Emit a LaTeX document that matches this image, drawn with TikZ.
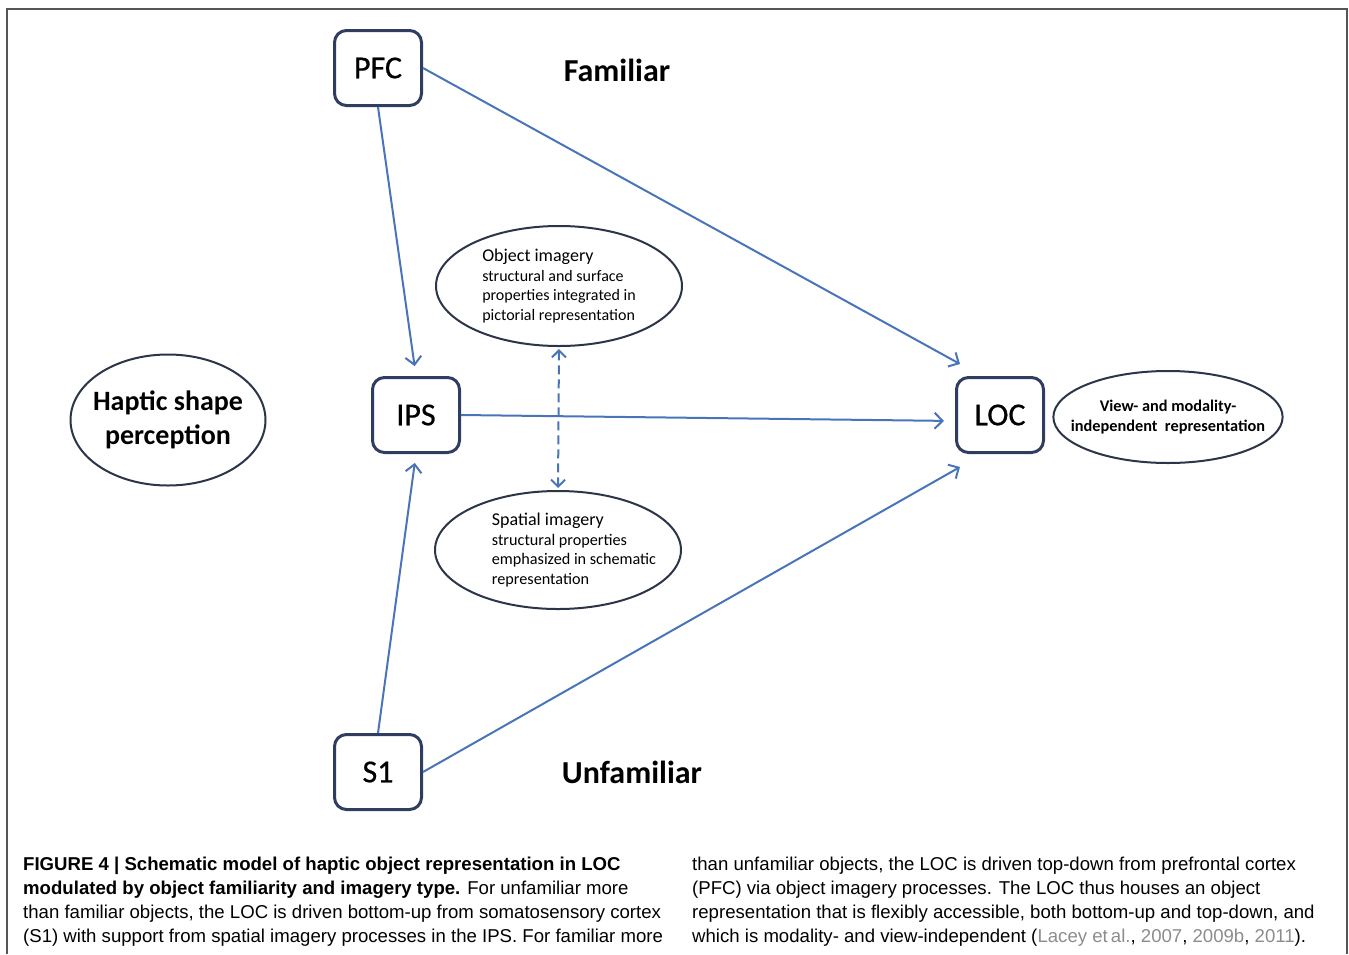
\documentclass[tikz,border=0pt]{standalone}
\usepackage{fontspec}
\setmainfont{Carlito}
\newfontfamily\labelfont[FakeBold=0.6]{Carlito}
\newfontfamily\capfont{Liberation Sans}
\usetikzlibrary{arrows.meta,shapes.geometric}
\definecolor{boxline}{HTML}{2F3E60}
\definecolor{ellline}{HTML}{2B3448}
\definecolor{arrowblue}{HTML}{4A74BA}
\definecolor{framegray}{HTML}{555555}
\definecolor{citegray}{HTML}{8C8C8C}
\begin{document}
\begin{tikzpicture}[x=1pt,y=-1pt,
  region/.style={draw=boxline, line width=3pt, rounded corners=12pt, minimum width=87pt, minimum height=75pt, inner sep=0pt, fill=white, font=\labelfont\fontsize{32}{36}\selectfont},
  bubble/.style={ellipse, draw=ellline, line width=2pt, inner sep=0pt},
  link/.style={draw=arrowblue, line width=2pt, -{Straight Barb[length=8pt,width=16pt]}},
  dashlink/.style={draw=arrowblue, line width=2pt, dash pattern=on 9pt off 5pt, {Straight Barb[length=7pt,width=14pt]}-{Straight Barb[length=7pt,width=14pt]}},
  bigword/.style={font=\bfseries\fontsize{32}{36}\selectfont, inner sep=0pt},
  capline/.style={anchor=base west, inner sep=0pt, font=\capfont\fontsize{18.6}{24}\selectfont}
]
\useasboundingbox (0,0) rectangle (1349,954);
\draw[framegray, line width=2pt] (7,954) -- (7,9) -- (1347,9) -- (1347,954);

\node[region] (pfc) at (378,68) {PFC};
\node[region] (ips) at (416,415) {IPS};
\node[region] (s1) at (378,772) {S1};
\node[region] (loc) at (1000,415) {LOC};

\node[bigword] (fam) at (617,70) {Familiar};
\node[bigword] (unfam) at (632,772) {Unfamiliar};

\node[bubble, inner xsep=-7pt, minimum width=195pt, minimum height=131pt, align=center, font=\bfseries\fontsize{28}{34}\selectfont] (haptic) at (168,420) {Haptic shape\\perception};

\node[bubble, minimum width=246pt, minimum height=120pt, align=left, font=\fontsize{16}{19.5}\selectfont] (obj) at (559,286)
  {{\fontsize{18}{20}\selectfont Object imagery}\\structural and surface\\properties integrated in\\pictorial representation};
\node[bubble, minimum width=246pt, minimum height=118pt] (spat) at (558,550) {};
\node[inner sep=0pt, align=left, font=\fontsize{16.2}{19.5}\selectfont] (spattext) at (574,550)
  {{\fontsize{18}{20}\selectfont Spatial imagery}\\structural properties\\emphasized in schematic\\representation};
\node[bubble, inner xsep=-16pt, minimum width=227pt, minimum height=92pt, align=center, font=\bfseries\fontsize{16.3}{20}\selectfont] (view) at (1168,417)
  {View- and modality-\\independent\ \ representation};

\draw[link, shorten >=10pt] (pfc.south) -- (ips.north);
\draw[link] (pfc.east) -- ([shift={(5pt,12pt)}]loc.north west);
\draw[link, shorten >=11pt] (ips.east) -- ([yshift=-6pt]loc.west);
\draw[link, shorten >=9pt] (s1.north) -- (ips.south);
\draw[link] (s1.east) -- ([shift={(5pt,-13pt)}]loc.south west);
\draw[dashlink, shorten <=2pt, shorten >=2pt] (obj.south) -- (spat.north);

\node[capline] (c1) at (23,870) {\bfseries FIGURE 4 | Schematic model of haptic object representation in LOC};
\node[capline] (c2) at (23,894) {\textbf{modulated by object familiarity and imagery type.} For unfamiliar more};
\node[capline] (c3) at (23,918) {than familiar objects, the LOC is driven bottom-up from somatosensory cortex};
\node[capline] (c4) at (23,942) {(S1) with support from spatial imagery processes in the IPS. For familiar more};
\node[capline] (d1) at (692,870) {than unfamiliar objects, the LOC is driven top-down from prefrontal cortex};
\node[capline] (d2) at (692,894) {(PFC) via object imagery processes. The LOC thus houses an object};
\node[capline] (d3) at (692,918) {representation that is flexibly accessible, both bottom-up and top-down, and};
\node[capline] (d4) at (692,942) {which is modality- and view-independent ({\color{citegray}Lacey et\,al.}, {\color{citegray}2007}, {\color{citegray}2009b}, {\color{citegray}2011}).};
\end{tikzpicture}
\end{document}
